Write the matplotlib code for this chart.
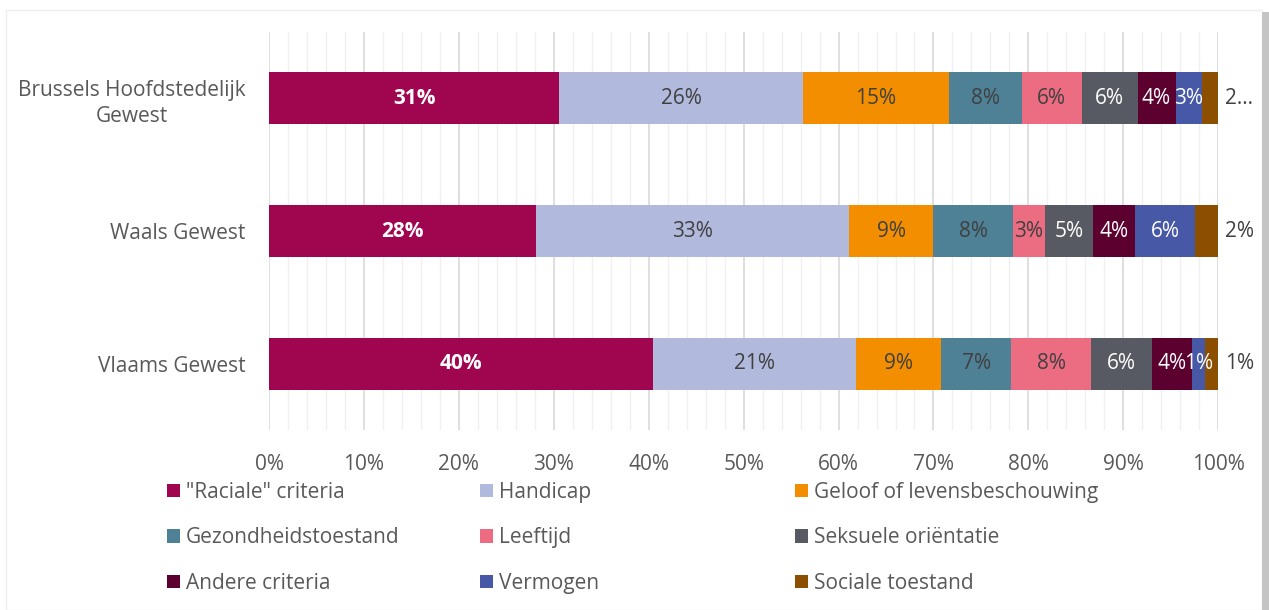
import matplotlib
matplotlib.use("Agg")
import matplotlib.pyplot as plt
from matplotlib.patches import Rectangle
import numpy as np

plt.rcParams['font.family'] = ['Open Sans', 'DejaVu Sans']

# regio's (van boven naar onder)
regions = ['Brussels Hoofdstedelijk\nGewest', 'Waals Gewest', 'Vlaams Gewest']

criteria = ['"Raciale" criteria', 'Handicap', 'Geloof of levensbeschouwing',
            'Gezondheidstoestand', 'Leeftijd', 'Seksuele oriëntatie',
            'Andere criteria', 'Vermogen', 'Sociale toestand']

# aandelen in % per regio (Brussel, Wallonië, Vlaanderen)
raciale = [30.6, 28.1, 40.4]
handicap = [25.7, 33.0, 21.4]
geloof = [15.3, 8.9, 9.0]
gezondheid = [7.7, 8.4, 7.4]
leeftijd = [6.3, 3.3, 8.4]
seksueel = [5.9, 5.1, 6.4]
andere = [4.0, 4.4, 4.2]
vermogen = [2.8, 6.4, 1.4]
sociaal = [1.7, 2.4, 1.4]
sociaal_labels = ['2…', '2%', '1%']

series = [raciale, handicap, geloof, gezondheid, leeftijd, seksueel, andere, vermogen, sociaal]
colors = ['#A0064F', '#B1B9DD', '#F28E00', '#4E8096', '#EC6C82',
          '#575A62', '#5C0030', '#4658A6', '#8C4F00']
label_colors = ['white', '#404040', '#404040', '#404040', '#404040',
                'white', 'white', 'white', '#404040']

FS = 15

fig = plt.figure(figsize=(12.69, 6.10), dpi=100)
ax = fig.add_axes([0.212, 0.295, 0.748, 0.6525])

# kader en schaduw van de grafiek
fig.patches.append(Rectangle((6 / 1269, 0), 1256 / 1269, 600 / 610, transform=fig.transFigure,
                             facecolor='white', edgecolor='#EFEFEF', lw=1, zorder=-2))
fig.patches.append(Rectangle((1262 / 1269, 0), 7 / 1269, 598 / 610, transform=fig.transFigure,
                             facecolor='#C4C4C4', edgecolor='none', zorder=-1))

y = np.arange(len(regions))[::-1]
left = np.zeros(len(regions))
for i, (vals, name) in enumerate(zip(series, criteria)):
    vals = np.array(vals)
    ax.barh(y, vals, left=left, height=0.39, color=colors[i], label=name, zorder=3)
    for j in range(len(regions)):
        if i == len(series) - 1:
            ax.text(100.7, y[j], sociaal_labels[j], ha='left', va='center',
                    fontsize=FS, color='#404040')
        else:
            ax.text(left[j] + vals[j] / 2, y[j], f'{round(vals[j])}%', ha='center', va='center',
                    fontsize=FS, color=label_colors[i],
                    fontweight='bold' if i == 0 else 'normal', zorder=4)
    left += vals

ax.set_xlim(0, 100)
ax.set_ylim(-0.5, 2.5)
ax.set_xticks(np.arange(0, 101, 10))
ax.set_xticklabels([f'{v}%' for v in range(0, 101, 10)])
ax.set_xticks(np.arange(0, 101, 2), minor=True)
ax.set_yticks(y)
ax.set_yticklabels(regions, multialignment='center', linespacing=1.3)
ax.grid(axis='x', which='major', color='#D9D9D9', lw=1.2, zorder=0)
ax.grid(axis='x', which='minor', color='#F0F0F0', lw=1.0, zorder=0)
ax.tick_params(axis='both', which='both', length=0, labelsize=FS, colors='#595959')
ax.tick_params(axis='x', pad=17)
ax.tick_params(axis='y', pad=17)
for s in ax.spines.values():
    s.set_visible(False)

# legenda in drie kolommen
handles, labels = ax.get_legend_handles_labels()
col_x = [167 / 1269, 480 / 1269, 795 / 1269]
for c in range(3):
    idx = [c, c + 3, c + 6]
    fig.legend([handles[k] for k in idx], [labels[k] for k in idx],
               loc='upper left', bbox_to_anchor=(col_x[c], 1 - 482 / 610),
               frameon=False, fontsize=FS, labelcolor='#595959',
               handlelength=0.6, handleheight=0.6, handletextpad=0.3,
               labelspacing=1.17, borderpad=0, borderaxespad=0)

fig.savefig('out.png', dpi=100, facecolor='white')
